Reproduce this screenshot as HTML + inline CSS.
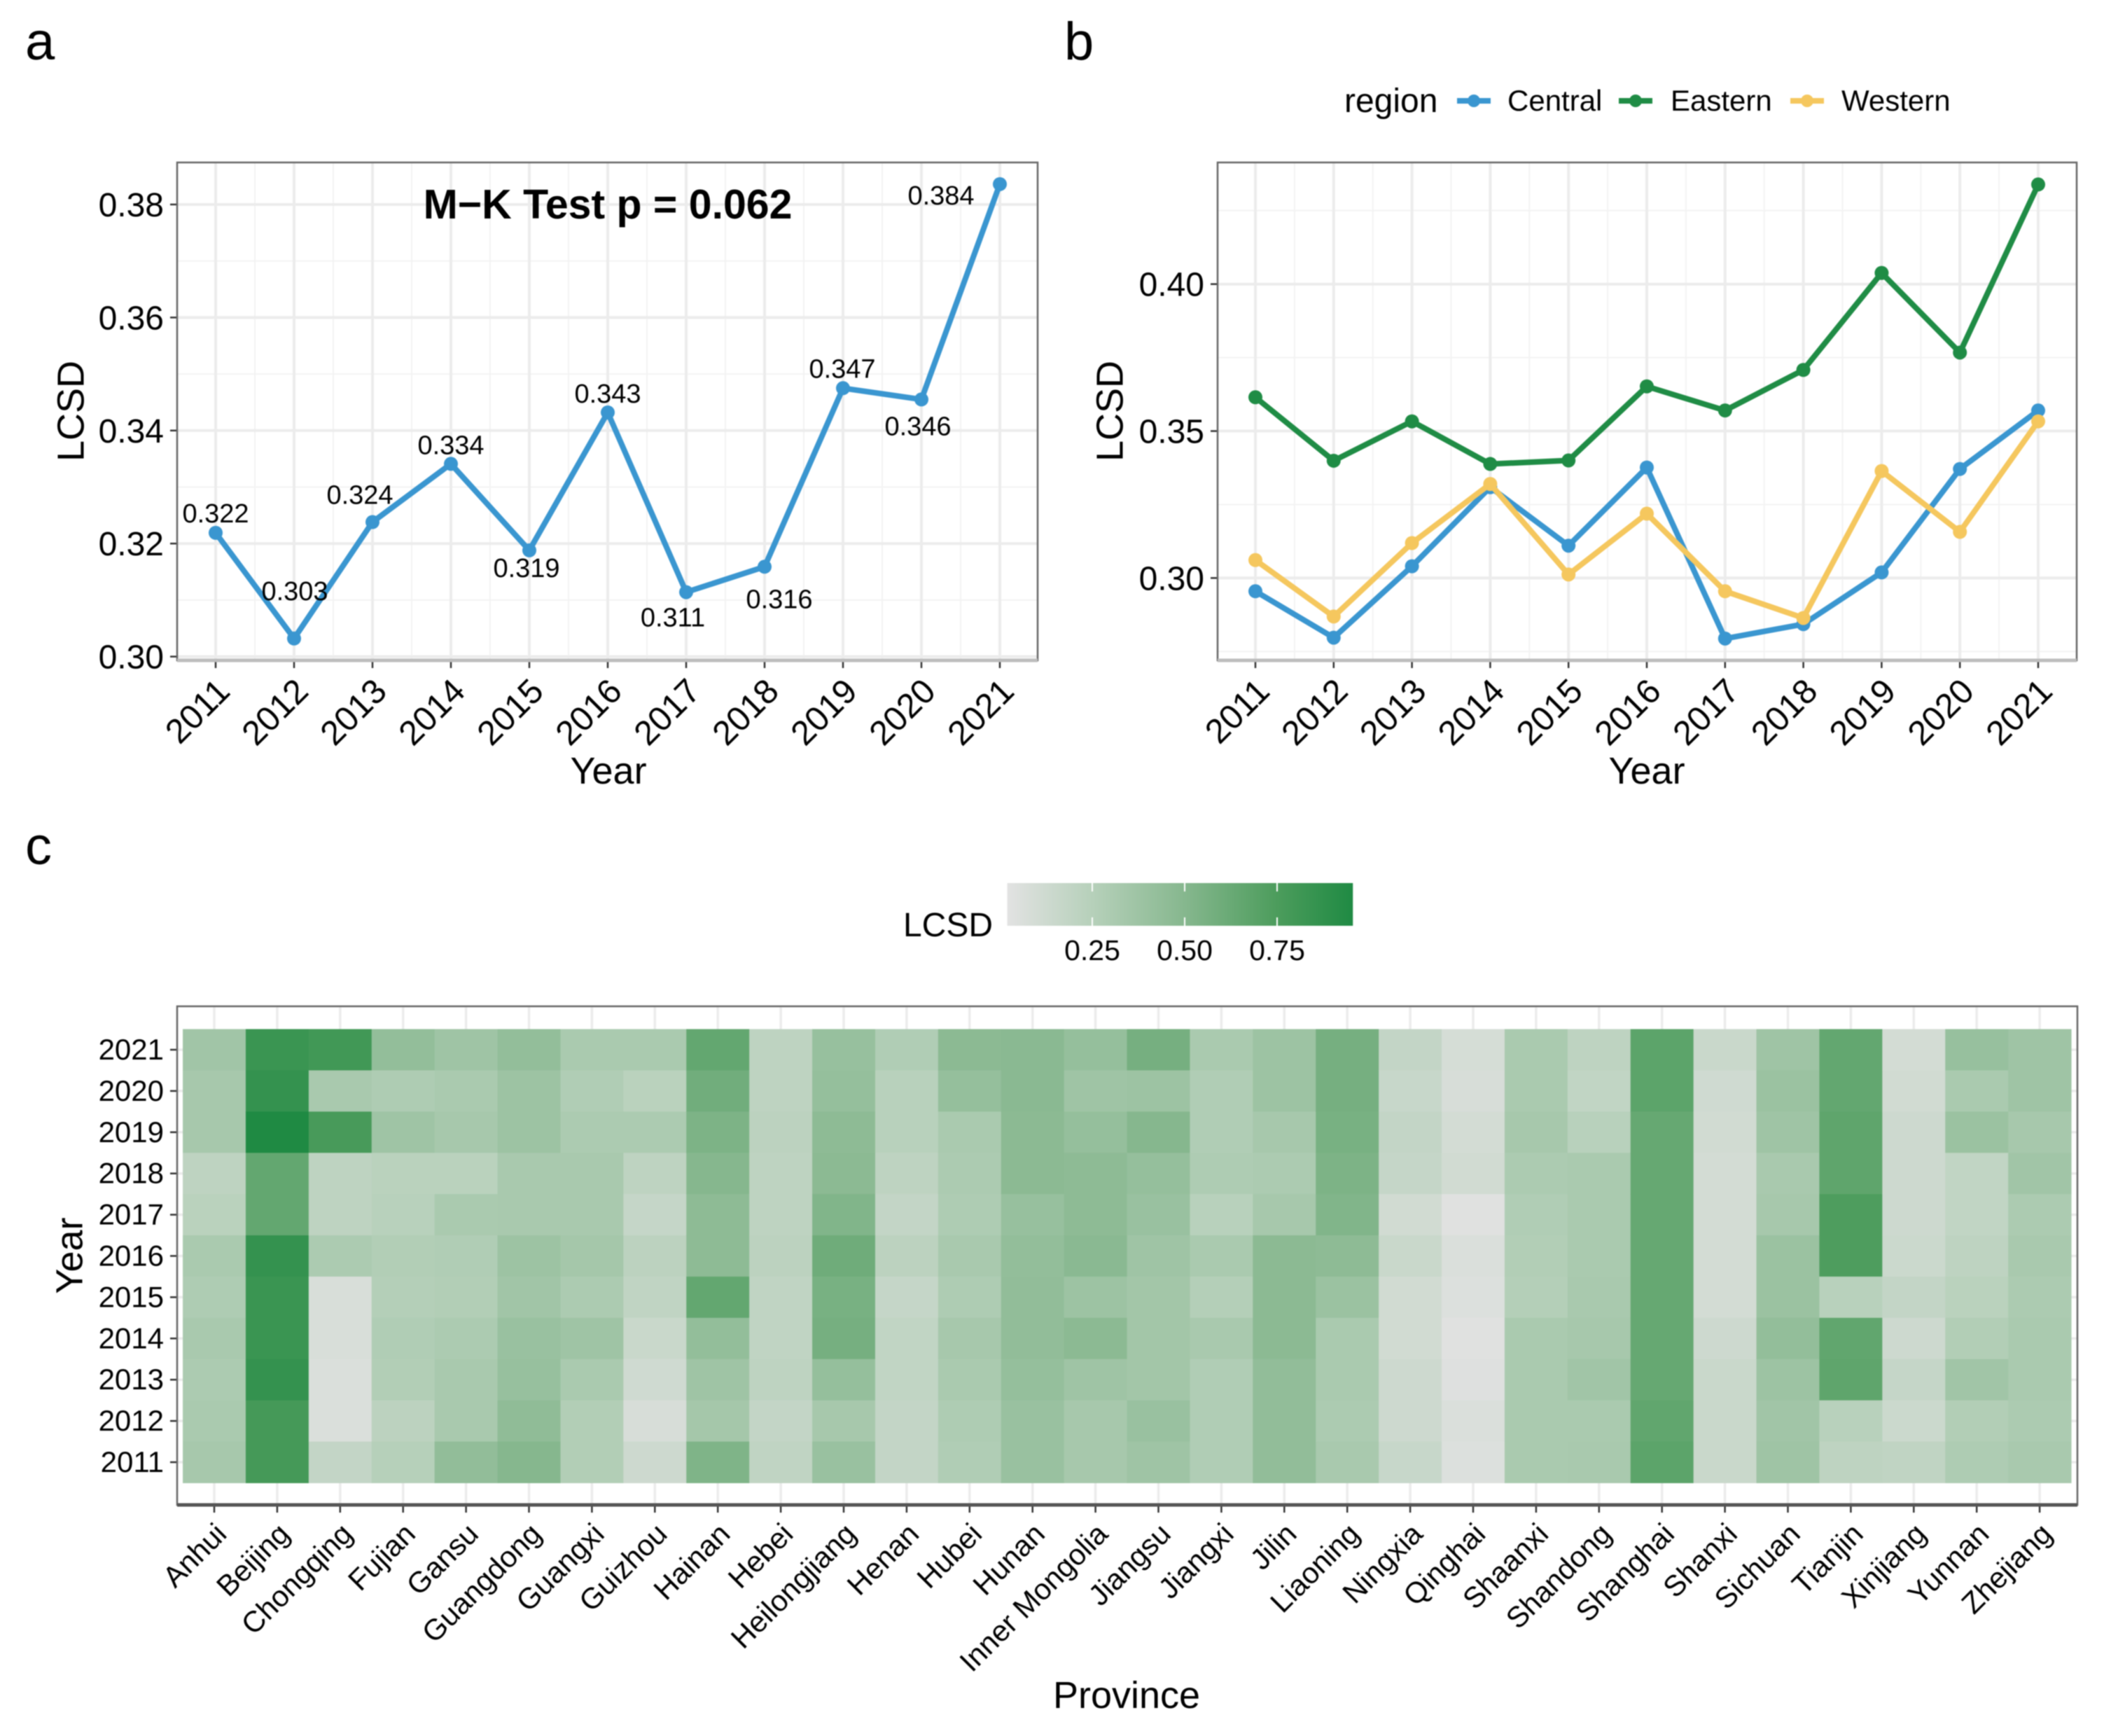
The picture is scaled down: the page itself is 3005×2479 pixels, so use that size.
<!DOCTYPE html>
<html lang="en">
<head>
<meta charset="utf-8">
<title>LCSD panels</title>
<style>
html,body{margin:0;padding:0;background:#fff;}
svg{display:block;font-family:"Liberation Sans","DejaVu Sans",sans-serif;filter:blur(0.8px);}
</style>
</head>
<body>
<svg id="figure" xmlns="http://www.w3.org/2000/svg" width="3005" height="2479" viewBox="0 0 3005 2479">
  <rect x="0" y="0" width="3005" height="2479" fill="#ffffff"/>
  <defs><linearGradient id="cbGrad" x1="0" x2="1" y1="0" y2="0"></linearGradient></defs>
  <text x="36" y="85" font-size="76">a</text>
  <text x="1520" y="85" font-size="76">b</text>
  <text x="36" y="1234" font-size="76">c</text>
  <g id="panelA"></g>
  <g id="panelB"></g>
  <g id="panelC"></g>
</svg>
<script>
/* ---------- shared categories ---------- */
var yearCategories = [2011,2012,2013,2014,2015,2016,2017,2018,2019,2020,2021];

/* ---------- panel a data ---------- */
var nationalValues = [0.3219,0.3032,0.3238,0.3341,0.3188,0.3432,0.3114,0.3159,0.3475,0.3455,0.3836];
var nationalPrintedLabels = ['0.322','0.303','0.324','0.334','0.319','0.343','0.311','0.316','0.347','0.346','0.384'];
var nationalTicks = [0.30,0.32,0.34,0.36,0.38];
var nationalMinorTicks = [0.31,0.33,0.35,0.37];
var testAnnotation = 'M\u2212K Test p = 0.062';

/* ---------- panel b data ---------- */
var centralValues = [0.2955,0.2797,0.3040,0.3309,0.3110,0.3376,0.2794,0.2843,0.3019,0.3371,0.3570];
var easternValues = [0.3615,0.3399,0.3533,0.3388,0.3400,0.3652,0.3570,0.3708,0.4038,0.3767,0.4339];
var westernValues = [0.3061,0.2869,0.3119,0.3320,0.3012,0.3219,0.2955,0.2864,0.3364,0.3157,0.3533];
var regionTicks = [0.30,0.35,0.40];
var regionMinorTicks = [0.275,0.325,0.375,0.425];

/* ---------- panel c data ---------- */
var provinces = ['Anhui','Beijing','Chongqing','Fujian','Gansu','Guangdong','Guangxi','Guizhou','Hainan','Hebei','Heilongjiang','Henan','Hubei','Hunan','Inner Mongolia','Jiangsu','Jiangxi','Jilin','Liaoning','Ningxia','Qinghai','Shaanxi','Shandong','Shanghai','Shanxi','Sichuan','Tianjin','Xinjiang','Yunnan','Zhejiang'];
var heatYears = [2021,2020,2019,2018,2017,2016,2015,2014,2013,2012,2011];
var heatRows = [
 /* Anhui */ [.36,.33,.33,.21,.23,.31,.29,.32,.30,.31,.33],
 /* Beijing */ [.83,.86,.955,.65,.65,.86,.83,.83,.86,.78,.78],
 /* Chongqing */ [.80,.32,.77,.21,.21,.30,.07,.07,.06,.06,.18],
 /* Fujian */ [.43,.29,.37,.23,.24,.27,.26,.28,.27,.22,.25],
 /* Gansu */ [.37,.31,.33,.23,.31,.28,.27,.30,.32,.32,.44],
 /* Guangdong */ [.43,.38,.38,.32,.32,.38,.36,.40,.41,.45,.50],
 /* Guangxi */ [.31,.28,.30,.32,.32,.34,.30,.37,.31,.27,.27],
 /* Guizhou */ [.31,.23,.30,.21,.17,.22,.20,.15,.12,.08,.13],
 /* Hainan */ [.65,.59,.54,.50,.46,.46,.65,.43,.37,.34,.53],
 /* Hebei */ [.21,.21,.22,.21,.21,.22,.20,.20,.21,.18,.20],
 /* Heilongjiang */ [.41,.42,.46,.47,.52,.60,.56,.57,.42,.33,.40],
 /* Henan */ [.28,.24,.24,.21,.18,.22,.17,.19,.19,.18,.18],
 /* Hubei */ [.47,.42,.31,.30,.29,.32,.29,.33,.31,.29,.28],
 /* Hunan */ [.48,.48,.47,.47,.41,.43,.44,.44,.42,.40,.40],
 /* Inner Mongolia */ [.42,.37,.42,.46,.46,.48,.38,.47,.37,.33,.33],
 /* Jiangsu */ [.57,.38,.50,.42,.40,.37,.35,.35,.35,.40,.37],
 /* Jiangxi */ [.31,.28,.28,.29,.24,.31,.26,.32,.28,.28,.28],
 /* Jilin */ [.38,.38,.33,.30,.33,.47,.47,.47,.44,.44,.44],
 /* Liaoning */ [.57,.57,.56,.54,.52,.46,.39,.31,.31,.30,.32],
 /* Ningxia */ [.18,.16,.18,.17,.11,.15,.11,.11,.13,.13,.16],
 /* Qinghai */ [.09,.08,.10,.11,.03,.06,.05,.03,.04,.06,.05],
 /* Shaanxi */ [.31,.31,.33,.30,.28,.27,.26,.31,.31,.31,.31],
 /* Shandong */ [.21,.19,.24,.31,.31,.31,.32,.33,.36,.31,.32],
 /* Shanghai */ [.68,.68,.64,.64,.64,.64,.64,.64,.64,.66,.68],
 /* Shanxi */ [.15,.12,.11,.10,.10,.10,.10,.13,.15,.15,.15],
 /* Sichuan */ [.37,.39,.37,.32,.33,.39,.39,.43,.38,.36,.37],
 /* Tianjin */ [.65,.65,.67,.67,.74,.74,.24,.66,.67,.24,.21],
 /* Xinjiang */ [.10,.11,.13,.13,.13,.14,.18,.13,.17,.14,.20],
 /* Yunnan */ [.41,.31,.39,.19,.19,.21,.23,.27,.36,.27,.29],
 /* Zhejiang */ [.37,.37,.33,.36,.30,.32,.30,.31,.31,.30,.32]
];
var colourbarTicks = [0.25,0.50,0.75];

/* ---------- helpers ---------- */
var SVGNS = 'http://www.w3.org/2000/svg';
function mk(tag, attrs, parent, txt){
  var n = document.createElementNS(SVGNS, tag);
  for (var k in attrs) n.setAttribute(k, attrs[k]);
  if (txt !== undefined) n.textContent = txt;
  parent.appendChild(n);
  return n;
}
var GRID_MAJOR = '#ececec', GRID_MINOR = '#f3f3f3', BORDER = '#666666', TICK = '#333333';
var BLUE = '#3a96d0', GREEN = '#1f8c45', YELLOW = '#f5c75e';
var COLOR_STOPS = [[0.02,[226,226,226]],[0.25,[182,208,186]],[0.50,[134,183,142]],[0.75,[76,156,92]],[0.955,[31,138,67]]];
function heatColor(v){
  var s = COLOR_STOPS;
  if (v <= s[0][0]) return 'rgb(' + s[0][1].join(',') + ')';
  for (var i = 1; i < s.length; i++){
    if (v <= s[i][0]){
      var t = (v - s[i-1][0]) / (s[i][0] - s[i-1][0]);
      var c = [0,1,2].map(function(j){ return Math.round(s[i-1][1][j] + t * (s[i][1][j] - s[i-1][1][j])); });
      return 'rgb(' + c.join(',') + ')';
    }
  }
  return 'rgb(' + s[s.length-1][1].join(',') + ')';
}

/* ---------- generic line-panel frame ---------- */
function drawFrame(parent, box, xFn, yFn, ticks, minor, titleX, yTitleX, prefix){
  var i, n, x, y;
  mk('rect', {x:box.l, y:box.t, width:box.r-box.l, height:box.b-box.t, fill:'#fff'}, parent);
  for (i = 0; i < minor.length; i++){
    y = yFn(minor[i]);
    n = mk('line', {x1:box.l, x2:box.r, y1:y, y2:y, stroke:GRID_MINOR, 'stroke-width':2}, parent);
    
    
  }
  for (i = 0; i < yearCategories.length - 1; i++){
    x = xFn(yearCategories[i] + 0.5);
    n = mk('line', {x1:x, x2:x, y1:box.t, y2:box.b, stroke:GRID_MINOR, 'stroke-width':2}, parent);
    
    
  }
  for (i = 0; i < ticks.length; i++){
    y = yFn(ticks[i]);
    n = mk('line', {x1:box.l, x2:box.r, y1:y, y2:y, stroke:GRID_MAJOR, 'stroke-width':4}, parent);
    
    
    n = mk('line', {x1:box.l-10, x2:box.l, y1:y, y2:y, stroke:TICK, 'stroke-width':2.5}, parent);
    
    
    n = mk('text', {x:box.l-19, y:y+17, 'font-size':48, 'text-anchor':'end', fill:'#000'}, parent, ticks[i].toFixed(2));
    
    
  }
  for (i = 0; i < yearCategories.length; i++){
    x = xFn(yearCategories[i]);
    n = mk('line', {x1:x, x2:x, y1:box.t, y2:box.b, stroke:GRID_MAJOR, 'stroke-width':4}, parent);
    
    
    n = mk('line', {x1:x, x2:x, y1:box.b, y2:box.b+11, stroke:TICK, 'stroke-width':2.5}, parent);
    
    
    n = mk('text', {x:x+23, y:990, 'font-size':49, 'text-anchor':'end', fill:'#000', transform:'rotate(-45 ' + (x+23) + ' 990)'}, parent, String(yearCategories[i]));
    
    
  }
  n = mk('text', {x:titleX, y:1119, 'font-size':54, 'text-anchor':'middle'}, parent, 'Year');
  
  
  n = mk('text', {x:yTitleX, y:587, 'font-size':54, 'text-anchor':'middle', transform:'rotate(-90 ' + yTitleX + ' 587)', dy:'0.36em'}, parent, 'LCSD');
  
  
}
function drawBorder(parent, box, prefix){
  var n = mk('rect', {x:box.l, y:box.t, width:box.r-box.l, height:box.b-box.t, fill:'none', stroke:BORDER, 'stroke-width':2.5}, parent);
  
  
  n = mk('line', {x1:box.l, x2:box.r, y1:box.b, y2:box.b, stroke:'#bdbdbd', 'stroke-width':5}, parent);
  
  
}
function drawSeries(parent, values, xFn, yFn, color, name){
  var d = values.map(function(v, i){ return xFn(yearCategories[i]).toFixed(1) + ',' + yFn(v).toFixed(1); }).join(' ');
  var n = mk('polyline', {points:d, fill:'none', stroke:color, 'stroke-width':8, 'stroke-linejoin':'round'}, parent);
  
  
  values.forEach(function(v, i){
    var p = mk('circle', {cx:xFn(yearCategories[i]), cy:yFn(v), r:10, fill:color}, parent);
    
    
  });
}

/* ---------- panel a ---------- */
(function(){
  var g = document.getElementById('panelA');
  var box = {l:253, r:1482, t:232, b:943};
  function x(yr){ return 308 + (yr - 2011) * 112; }
  function y(v){ return 937.6 - (v - 0.30) * 8070; }
  drawFrame(g, box, x, y, nationalTicks, nationalMinorTicks, 869, 100, 'panel-a');
  drawSeries(g, nationalValues, x, y, BLUE, 'national-lcsd');
  var nudgeX = [0,1,-18,0,-4,0,-19,21,-1,-5,-84];
  var nudgeY = [-28,-68,-39,-27,25,-27,36,46,-28,38,16];
  nationalValues.forEach(function(v, i){
    var t = mk('text', {x:x(yearCategories[i]) + nudgeX[i], y:y(v) + nudgeY[i] + 13, 'font-size':38, 'text-anchor':'middle', fill:'#000'}, g, nationalPrintedLabels[i]);
    
    
  });
  var a = mk('text', {x:868, y:312, 'font-size':59, 'font-weight':'bold', 'text-anchor':'middle'}, g, testAnnotation);
  
  
  drawBorder(g, box, 'panel-a');
})();

/* ---------- panel b ---------- */
(function(){
  var g = document.getElementById('panelB');
  var box = {l:1739, r:2966, t:232, b:943};
  function x(yr){ return 1793 + (yr - 2011) * 111.8; }
  function y(v){ return 825.4 - (v - 0.30) * 4197; }
  drawFrame(g, box, x, y, regionTicks, regionMinorTicks, 2352, 1584, 'panel-b');
  drawSeries(g, centralValues, x, y, BLUE, 'central');
  drawSeries(g, easternValues, x, y, GREEN, 'eastern');
  drawSeries(g, westernValues, x, y, YELLOW, 'western');
  drawBorder(g, box, 'panel-b');
  var lg = mk('g', {}, g);
  
  
  var lt = mk('text', {x:1920, y:160, 'font-size':48}, lg, 'region');
  
  
  var entries = [['Central',BLUE,2081,2153],['Eastern',GREEN,2312,2386],['Western',YELLOW,2557,2630]];
  entries.forEach(function(e){
    var l = mk('line', {x1:e[2], x2:e[2]+48, y1:144, y2:144, stroke:e[1], 'stroke-width':8}, lg);
    
    
    var c = mk('circle', {cx:e[2]+24, cy:144, r:9, fill:e[1]}, lg);
    
    
    var t = mk('text', {x:e[3], y:158, 'font-size':42, fill:'#000'}, lg, e[0]);
    
    
  });
})();

/* ---------- panel c ---------- */
(function(){
  var g = document.getElementById('panelC');
  var box = {l:253, r:2967, t:1437, b:2149};
  var stepX = 89.9, stepY = 58.9;
  function x(i){ return 306 + i * stepX; }
  function y(i){ return 1499 + i * stepY; }
  mk('rect', {x:box.l, y:box.t, width:box.r-box.l, height:box.b-box.t, fill:'#fff'}, g);
  provinces.forEach(function(p, i){
    var l = mk('line', {x1:x(i), x2:x(i), y1:box.t, y2:box.b, stroke:GRID_MAJOR, 'stroke-width':3.5}, g);
    
    
  });
  heatYears.forEach(function(yr, j){
    var l = mk('line', {x1:box.l, x2:box.r, y1:y(j), y2:y(j), stroke:GRID_MAJOR, 'stroke-width':3.5}, g);
    
    
  });
  heatRows.forEach(function(row, i){
    row.forEach(function(v, j){
      var r = mk('rect', {x:x(i)-stepX/2, y:y(j)-stepY/2, width:stepX+0.5, height:stepY+0.5, fill:heatColor(v)}, g);
      
      
    });
  });
  heatYears.forEach(function(yr, j){
    var t = mk('line', {x1:box.l-10, x2:box.l, y1:y(j), y2:y(j), stroke:TICK, 'stroke-width':2.5}, g);
    
    
    var s = mk('text', {x:box.l-19, y:y(j)+14, 'font-size':42, 'text-anchor':'end', fill:'#000'}, g, String(yr));
    
    
  });
  provinces.forEach(function(p, i){
    var t = mk('line', {x1:x(i), x2:x(i), y1:box.b, y2:box.b+11, stroke:TICK, 'stroke-width':2.5}, g);
    
    
    var px = x(i) + 20, py = 2193;
    var s = mk('text', {x:px, y:py, 'font-size':42, 'text-anchor':'end', fill:'#000', transform:'rotate(-45 ' + px + ' ' + py + ')'}, g, p);
    
    
  });
  var b = mk('rect', {x:box.l, y:box.t, width:box.r-box.l, height:box.b-box.t, fill:'none', stroke:BORDER, 'stroke-width':2.5}, g);
  
  
  var ax = mk('line', {x1:box.l, x2:box.r, y1:box.b, y2:box.b, stroke:'#555555', 'stroke-width':5}, g);
  
  
  var xt = mk('text', {x:1609, y:2439, 'font-size':54, 'text-anchor':'middle'}, g, 'Province');
  
  
  var yt = mk('text', {x:98, y:1793, 'font-size':54, 'text-anchor':'middle', dy:'0.36em', transform:'rotate(-90 98 1793)'}, g, 'Year');
  
  

  /* colour bar */
  var grad = document.getElementById('cbGrad');
  COLOR_STOPS.forEach(function(s){
    mk('stop', {offset:((s[0]-0.02)/(0.955-0.02)*100).toFixed(1)+'%', 'stop-color':'rgb(' + s[1].join(',') + ')'}, grad);
  });
  function cx(v){ return 1560 + (v - 0.25) / 0.25 * 132; }
  var cg = mk('g', {}, g);
  
  
  var bar = mk('rect', {x:cx(0.02), y:1261, width:cx(0.955)-cx(0.02), height:61, fill:'url(#cbGrad)'}, cg);
  
  
  colourbarTicks.forEach(function(v){
    var t1 = mk('line', {x1:cx(v), x2:cx(v), y1:1261, y2:1273, stroke:'#fff', 'stroke-width':2}, cg);
    
    
    var t2 = mk('line', {x1:cx(v), x2:cx(v), y1:1310, y2:1322, stroke:'#fff', 'stroke-width':2}, cg);
    
    
    var s = mk('text', {x:cx(v), y:1371, 'font-size':41, 'text-anchor':'middle', fill:'#000'}, cg, v.toFixed(2));
    
    
  });
  var ct = mk('text', {x:1418, y:1337, 'font-size':48, 'text-anchor':'end'}, cg, 'LCSD');
  
  
})();
</script>
</body>
</html>
